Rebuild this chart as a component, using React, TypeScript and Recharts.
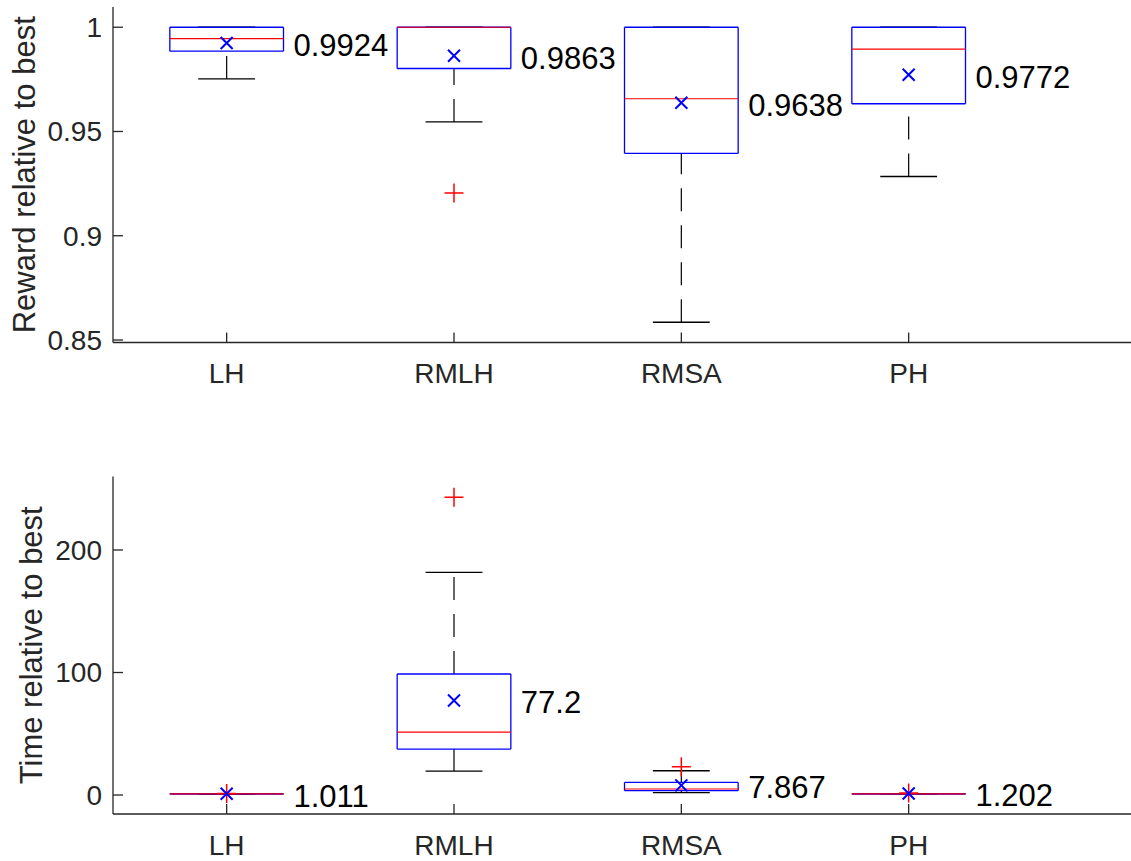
import React from "react";
import { ComposedChart, XAxis, YAxis, Scatter, ReferenceLine } from "recharts";

const categories = ["LH", "RMLH", "RMSA", "PH"];

// reward relative to best (top panel)
const rewardMin = [0.9752, 0.9546, 0.8585, 0.9284];
const rewardQ1 = [0.9885, 0.9802, 0.9395, 0.9633];
const rewardMedian = [0.9945, 1.0, 0.9657, 0.9895];
const rewardQ3 = [1.0, 1.0, 1.0, 1.0];
const rewardMax = [1.0, 1.0, 1.0, 1.0];
const rewardMean = [0.9924, 0.9863, 0.9638, 0.9772];
const rewardOutliers = [[], [0.9205], [], []];
const rewardTicks = [0.85, 0.9, 0.95, 1];

// time relative to best (bottom panel)
const timeMin = [0.98, 19.5, 1.9, 0.98];
const timeQ1 = [1.0, 37.5, 3.5, 1.0];
const timeMedian = [1.0, 51.3, 4.9, 1.0];
const timeQ3 = [1.02, 98.8, 10.3, 1.05];
const timeMax = [1.05, 181.8, 19.8, 1.1];
const timeMean = [1.011, 77.2, 7.867, 1.202];
const timeOutliers = [[1.3], [243], [23], [1.6]];
const timeTicks = [0, 100, 200];

const FONT = '"Liberation Sans", Arial, Helvetica, sans-serif';
const AXIS = "#262626";
const BOX_HALF = 0.25;
const CAP_HALF = 0.125;

const fmt = (v: number) => String(Number(v.toPrecision(4)));

const MeanMark = (props: any) => {
  const { cx, cy } = props;
  const s = 6;
  return (
    <path
      d={`M${cx - s},${cy - s}L${cx + s},${cy + s}M${cx - s},${cy + s}L${cx + s},${cy - s}`}
      stroke="#0000ff"
      strokeWidth={2}
      fill="none"
    />
  );
};

const PlusMark = (props: any) => {
  const { cx, cy } = props;
  const s = 9.5;
  return (
    <path
      d={`M${cx - s},${cy}L${cx + s},${cy}M${cx},${cy - s}L${cx},${cy + s}`}
      stroke="#ff0000"
      strokeWidth={1.5}
      fill="none"
    />
  );
};

const MeanText = (props: any) => {
  const { cx, cy, payload } = props;
  return (
    <text
      x={cx + 10}
      y={cy + 2}
      dy="0.35em"
      fontSize={31}
      fontFamily={FONT}
      fill="#000000"
    >
      {payload.text}
    </text>
  );
};

const AxisTitle = (props: any) => {
  const { viewBox, value, posX } = props;
  const cy = viewBox.y + viewBox.height / 2;
  return (
    <text
      x={posX}
      y={cy}
      transform={`rotate(-90 ${posX} ${cy})`}
      textAnchor="middle"
      dominantBaseline="central"
      fontSize={31}
      fontFamily={FONT}
      fill={AXIS}
    >
      {value}
    </text>
  );
};

type PanelProps = {
  min: number[];
  q1: number[];
  median: number[];
  q3: number[];
  max: number[];
  mean: number[];
  outliers: number[][];
  ticks: number[];
  domain: [number, number];
  title: string;
  titleX: number;
  top: number;
  height: number;
  marginTop: number;
  axisHeight: number;
};

function BoxPanel(p: PanelProps) {
  const meanPoints = categories.map((c, i) => ({ x: i + 1, y: p.mean[i] }));
  const labelPoints = categories.map((c, i) => ({
    x: i + 1 + BOX_HALF,
    y: p.mean[i],
    text: fmt(p.mean[i]),
  }));
  const outlierPoints = p.outliers.flatMap((vals, i) =>
    vals.map((v) => ({ x: i + 1, y: v }))
  );

  const marks: React.ReactElement[] = [];
  categories.forEach((c, i) => {
    const x = i + 1;
    const l = x - BOX_HALF;
    const r = x + BOX_HALF;
    // whiskers, drawn from the lower value upwards
    if (p.q1[i] > p.min[i]) {
      marks.push(
        <ReferenceLine
          key={`wl-${c}`}
          segment={[{ x, y: p.min[i] }, { x, y: p.q1[i] }]}
          stroke="#000000"
          strokeWidth={1.2}
          strokeDasharray="23 14"
        />
      );
    }
    if (p.max[i] > p.q3[i]) {
      marks.push(
        <ReferenceLine
          key={`wu-${c}`}
          segment={[{ x, y: p.q3[i] }, { x, y: p.max[i] }]}
          stroke="#000000"
          strokeWidth={1.2}
          strokeDasharray="23 14"
        />
      );
    }
    // caps
    marks.push(
      <ReferenceLine
        key={`cl-${c}`}
        segment={[{ x: x - CAP_HALF, y: p.min[i] }, { x: x + CAP_HALF, y: p.min[i] }]}
        stroke="#000000"
        strokeWidth={1.3}
      />,
      <ReferenceLine
        key={`cu-${c}`}
        segment={[{ x: x - CAP_HALF, y: p.max[i] }, { x: x + CAP_HALF, y: p.max[i] }]}
        stroke="#000000"
        strokeWidth={1.3}
      />
    );
    // box
    const boxSides: [number, number, number, number][] = [
      [l, p.q1[i], r, p.q1[i]],
      [l, p.q3[i], r, p.q3[i]],
      [l, p.q1[i], l, p.q3[i]],
      [r, p.q1[i], r, p.q3[i]],
    ];
    boxSides.forEach((s, k) => {
      marks.push(
        <ReferenceLine
          key={`b-${c}-${k}`}
          segment={[{ x: s[0], y: s[1] }, { x: s[2], y: s[3] }]}
          stroke="#0000ff"
          strokeWidth={1.3}
        />
      );
    });
    // median
    marks.push(
      <ReferenceLine
        key={`m-${c}`}
        segment={[{ x: l, y: p.median[i] }, { x: r, y: p.median[i] }]}
        stroke="#ff0000"
        strokeWidth={1.2}
      />
    );
  });

  const axisLine = { stroke: AXIS, strokeWidth: 1.3 };
  const tickStyle = { fill: AXIS, fontSize: 28, fontFamily: FONT };

  return (
    <div style={{ position: "absolute", left: 0, top: p.top }}>
      <ComposedChart
        width={1140}
        height={p.height}
        margin={{ top: p.marginTop, right: 4, bottom: 0, left: 0 }}
      >
        <XAxis
          dataKey="x"
          type="number"
          domain={[0.5, 5]}
          allowDataOverflow
          ticks={[1, 2, 3, 4]}
          interval={0}
          tickFormatter={(v: number) => categories[v - 1]}
          height={p.axisHeight}
          tickSize={-10}
          tickMargin={31}
          axisLine={axisLine}
          tickLine={axisLine}
          tick={tickStyle}
        />
        <XAxis
          xAxisId="top"
          orientation="top"
          type="number"
          domain={[0.5, 5]}
          allowDataOverflow
          ticks={[1, 2, 3, 4]}
          interval={0}
          height={0}
          tickSize={-10}
          tick={false}
          axisLine={axisLine}
          tickLine={axisLine}
        />
        <YAxis
          dataKey="y"
          type="number"
          domain={p.domain}
          allowDataOverflow
          ticks={p.ticks}
          interval={0}
          width={113}
          tickSize={-10}
          tickMargin={21}
          axisLine={axisLine}
          tickLine={axisLine}
          tick={tickStyle}
          label={<AxisTitle value={p.title} posX={p.titleX} />}
        />
        <YAxis
          yAxisId="right"
          orientation="right"
          type="number"
          domain={p.domain}
          allowDataOverflow
          ticks={p.ticks}
          interval={0}
          width={0}
          tickSize={-10}
          tick={false}
          axisLine={axisLine}
          tickLine={axisLine}
        />
        {marks}
        <Scatter
          data={outlierPoints}
          shape={<PlusMark />}
          isAnimationActive={false}
        />
        <Scatter
          data={meanPoints}
          shape={<MeanMark />}
          isAnimationActive={false}
        />
        <Scatter
          data={labelPoints}
          shape={<MeanText />}
          isAnimationActive={false}
        />
      </ComposedChart>
    </div>
  );
}

export default function App() {
  return (
    <div
      style={{
        position: "absolute",
        left: 0,
        top: 0,
        width: 1131,
        height: 861,
        overflow: "hidden",
        background: "#ffffff",
      }}
    >
      <BoxPanel
        min={rewardMin}
        q1={rewardQ1}
        median={rewardMedian}
        q3={rewardQ3}
        max={rewardMax}
        mean={rewardMean}
        outliers={rewardOutliers}
        ticks={rewardTicks}
        domain={[0.8488, 1.0097]}
        title="Reward relative to best"
        titleX={24}
        top={0}
        height={392}
        marginTop={7}
        axisHeight={49.5}
      />
      <BoxPanel
        min={timeMin}
        q1={timeQ1}
        median={timeMedian}
        q3={timeQ3}
        max={timeMax}
        mean={timeMean}
        outliers={timeOutliers}
        ticks={timeTicks}
        domain={[-15.5, 260]}
        title="Time relative to best"
        titleX={31}
        top={430}
        height={431}
        marginTop={46.5}
        axisHeight={47}
      />
    </div>
  );
}
